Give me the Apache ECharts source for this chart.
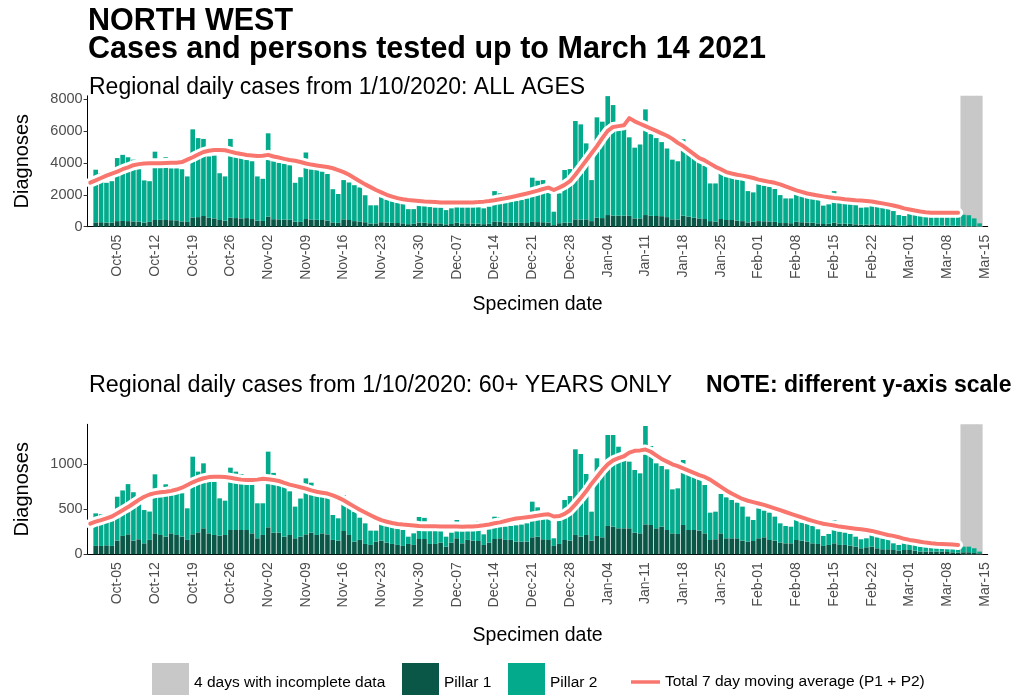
<!DOCTYPE html>
<html>
<head>
<meta charset="utf-8">
<script src="https://cdn.jsdelivr.net/npm/echarts@6/dist/echarts.min.js"></script>
<style>
  html, body { margin: 0; padding: 0; background: #fff; }
  #main { width: 1018px; height: 695px; }
</style>
</head>
<body>
<div id="main"></div>
<script>
// daily counts from 1 Oct 2020 to 14 Mar 2021 (one value per day)
var allP1 = [270,280,250,260,350,360,350,330,320,260, 300,420,430,420,410,400,330,300,580,600,
  670,560,520,420,380,560,540,520,540,480, 380,360,630,470,460,440,430,320,300,480,
  450,430,420,380,270,240,460,420,350,330, 280,200,210,280,260,240,230,210,160,180,
  260,250,220,210,210,150,170,250,210,210, 200,200,160,180,330,310,260,260,250,240,
  230,300,290,280,260,100,220,260,250,460, 440,460,350,560,540,730,690,690,690,680,
  520,520,730,680,670,660,600,460,450,690, 630,560,520,480,350,310,480,420,420,380,
  350,270,310,350,340,330,300,230,230,220, 310,280,260,250,210,170,180,250,190,190,
  180,150,130,130,150,130,100,100,100,80, 80,100,90,80,70,65,60,60,60,60, 55,60,50,45,20];
var allP2 = [3300,3080,2500,2590,3950,4140,4000,3870,3280,2640, 2550,4280,3770,3930,3240,3250,3270,2850,5520,4950,
  4830,3840,3930,2930,2770,4940,4310,3830,3660,3620, 2770,2640,5220,3630,3540,3510,3420,2430,2800,4170,
  3150,3120,3030,2920,2080,1810,2460,2350,2250,2130, 1690,1140,1130,1570,1440,1360,1270,1210,940,920,
  1100,1070,1010,980,980,890,980,1500,1000,1000, 1010,1010,990,1070,1900,1780,1260,1310,1370,1430,
  1540,2770,2590,2640,1990,840,1870,3290,3360,6160, 5970,4760,2570,6290,6040,7450,6930,5410,5460,4920,
  4430,4630,6620,5120,4880,4640,4300,3740,3650,4790, 4070,3990,3830,3340,2360,2400,3030,2860,2710,2650,
  2570,1960,1840,2320,2230,2180,2060,1750,1540,1550, 1740,1640,1580,1520,1460,1150,1220,1980,1330,1270,
  1240,1210,1060,1080,1170,1120,1110,1050,880,650, 590,780,700,650,530,535,540,540,540,540, 545,690,670,475,190];
var oldP1 = [93,93,100,93,152,204,222,152,167,122, 160,233,215,196,233,215,196,160,222,244,
  289,233,215,207,215,270,270,270,270,233, 178,215,300,240,240,196,215,178,196,222,
  240,215,233,222,160,152,259,215,141,160, 115,104,141,152,130,115,104,93,115,104,
  170,170,115,115,130,85,130,178,122,160, 152,148,104,130,170,178,160,160,141,141,
  141,189,196,167,159,93,115,159,152,215, 196,215,152,204,189,315,307,289,289,289,
  241,233,333,326,289,307,270,233,226,326, 270,270,263,233,159,167,233,178,178,178,
  152,141,148,178,189,159,152,130,122,122, 159,152,141,122,115,93,104,122,104,104,
  96,85,67,78,85,67,56,56,48,41, 48,48,41,30,30,30,30,30,26,22, 19,22,22,15,11];
var oldP2 = [362,352,265,277,488,506,558,538,393,370, 315,656,418,582,526,548,482,351,863,675,
  722,667,592,415,381,693,649,620,610,574, 389,352,841,665,549,584,485,352,424,622,
  556,455,437,408,277,248,400,322,333,247, 229,159,122,211,196,185,185,177,81,129,
  245,235,155,155,140,111,110,203,148,110, 118,222,118,148,248,233,147,155,181,189,
  203,396,326,326,241,85,266,445,496,952, 919,678,322,863,761,1011,1019,907,796,741,
  696,667,1093,878,722,674,674,489,507,722, 630,600,581,537,304,307,437,455,426,396,
  378,278,233,333,296,304,267,214,193,185, 222,200,196,193,163,111,122,259,148,137,
  130,111,100,100,222,122,122,111,74,63, 74,67,63,55,48,48,48,37,41,45, 37,63,63,52,19];

// 7 day moving average, 30 Sep 2020 to 10 Mar 2021
var allAvg = [2760, 2900,3050,3200,3330,3450,3600,3720,3850,3920,3960,
  3970,3980,3980,3990,4000,4010,4050,4200,4350,4520, 4680,4760,4800,4800,4790,4700,4620,4560,4490,4460,
  4430,4450,4500,4400,4330,4250,4180,4130,4050,3960, 3890,3840,3790,3740,3660,3550,3420,3250,3050,2850,
  2650,2480,2300,2150,2000,1880,1790,1720,1670,1640, 1610,1580,1560,1540,1520,1510,1510,1510,1510,1510,
  1520,1540,1570,1610,1660,1720,1780,1850,1920,2000, 2080,2170,2260,2360,2450,2300,2450,2620,2850,3250,
  3700,4150,4600,5050,5550,6000,6250,6300,6350,6800, 6600,6450,6300,6150,6000,5850,5700,5500,5250,5050,
  4800,4550,4300,4150,3950,3750,3600,3420,3330,3250, 3200,3130,3050,2950,2880,2810,2750,2650,2520,2400,
  2280,2180,2080,2020,1960,1900,1850,1800,1760,1720, 1690,1660,1640,1610,1580,1520,1460,1400,1330,1250,
  1150,1080,1010,950,910,880,870,870,870,870,870];
var oldAvg = [340, 363,380,400,420,455,490,525,565,605,640,
  665,680,690,696,705,720,740,770,800,826, 845,858,863,863,860,850,840,830,826,825,
  830,840,835,826,815,795,775,760,745,730, 710,695,685,675,655,630,600,565,530,495,
  465,435,405,380,362,348,337,330,325,320, 315,313,312,311,310,310,309,308,307,308,
  310,315,322,332,345,355,370,385,398,405, 412,420,430,440,445,420,425,450,490,555,
  625,700,785,860,935,1000,1045,1070,1090,1130, 1150,1155,1165,1140,1100,1060,1030,1000,980,955,
  930,905,880,860,830,790,750,710,675,645, 615,595,580,565,550,530,510,490,470,450,
  430,410,390,372,355,340,330,320,308,300, 292,285,278,270,260,245,230,215,205,190,
  172,160,150,140,130,123,118,115,112,108,104];

var incompleteDays = ['2021-03-11', '2021-03-12', '2021-03-13', '2021-03-14'];
var allTicks = [0, 2000, 4000, 6000, 8000];
var oldTicks = [0, 500, 1000];
var allMax = 8200;
var oldMax = 1445;

var months = ['Jan','Feb','Mar','Apr','May','Jun','Jul','Aug','Sep','Oct','Nov','Dec'];
var days = [];
for (var t = Date.UTC(2020, 8, 30); t <= Date.UTC(2021, 2, 15); t += 86400000) {
    days.push(new Date(t).toISOString().slice(0, 10));
}

var FONT = "'Liberation Sans', Arial, sans-serif";
var C_P1 = '#0b5747', C_P2 = '#03ab8c', C_GREY = '#c8c8c8', C_LINE = '#f8766d';

function isMonday(idx, val) {
    return new Date(val + 'T00:00:00Z').getUTCDay() === 1;
}
function dayLabel(val) {
    var d = new Date(val + 'T00:00:00Z');
    var dd = d.getUTCDate();
    return months[d.getUTCMonth()] + '-' + (dd < 10 ? '0' + dd : dd);
}
function pad(arr) {
    return [null].concat(arr).concat([null]);
}

function renderGrey(params, api) {
    var top = api.coord([api.value(0), api.value(1)]);
    var base = api.coord([api.value(0), 0]);
    var w = api.size([1, 0])[0];
    return {
        type: 'rect',
        shape: { x: top[0] - w / 2 - 0.3, y: top[1], width: w + 0.6, height: base[1] - top[1] },
        style: { fill: C_GREY }
    };
}

function xAxisFor(gridIndex, gap) {
    return {
        type: 'category', gridIndex: gridIndex, data: days, boundaryGap: true,
        axisLine: { lineStyle: { color: '#000', width: 1 } },
        axisTick: { alignWithLabel: true, interval: isMonday, length: 4, lineStyle: { color: '#333' } },
        axisLabel: { interval: isMonday, rotate: 90, formatter: dayLabel, fontSize: 14, color: '#4d4d4d',
            fontFamily: FONT, margin: 8, hideOverlap: false },
        name: 'Specimen date', nameLocation: 'middle', nameGap: gap, nameMoveOverlap: false,
        nameTextStyle: { fontSize: 19.5, color: '#000', fontFamily: FONT }
    };
}
function yAxisFor(gridIndex, max, ticks) {
    return {
        type: 'value', gridIndex: gridIndex, min: 0, max: max,
        axisLine: { show: true, lineStyle: { color: '#000', width: 1 } },
        axisTick: { show: true, length: 4, customValues: ticks, lineStyle: { color: '#333' } },
        axisLabel: { customValues: ticks, fontSize: 14.5, color: '#4d4d4d', fontFamily: FONT, margin: 5,
            formatter: function (v) { return String(v); } },
        splitLine: { show: false },
        name: 'Diagnoses', nameLocation: 'middle', nameGap: 55, nameMoveOverlap: false,
        nameTextStyle: { fontSize: 20, color: '#000', fontFamily: FONT }
    };
}
function seriesFor(idx, p1, p2, avg, max) {
    return [
        { name: '4 days with incomplete data', type: 'custom', xAxisIndex: idx, yAxisIndex: idx, z: 1,
          renderItem: renderGrey, itemStyle: { color: C_GREY }, silent: true,
          data: incompleteDays.map(function (d) { return [d, max]; }) },
        { name: 'Pillar 1', type: 'bar', stack: 'p' + idx, xAxisIndex: idx, yAxisIndex: idx, z: 2,
          barCategoryGap: '14%', itemStyle: { color: C_P1 }, data: pad(p1) },
        { name: 'Pillar 2', type: 'bar', stack: 'p' + idx, xAxisIndex: idx, yAxisIndex: idx, z: 2,
          barCategoryGap: '14%', itemStyle: { color: C_P2 }, data: pad(p2) },
        { name: 'halo', type: 'line', xAxisIndex: idx, yAxisIndex: idx, z: 3, silent: true,
          symbol: 'none', lineStyle: { color: '#fff', width: 10, cap: 'round', join: 'round' }, data: avg },
        { name: 'Total 7 day moving average (P1 + P2)', type: 'line', xAxisIndex: idx, yAxisIndex: idx, z: 4,
          symbol: 'none', lineStyle: { color: C_LINE, width: 4, cap: 'round', join: 'round' },
          itemStyle: { color: C_LINE }, data: avg }
    ];
}
function legendAt(left, top, name, w, h) {
    return {
        left: left, top: top, orient: 'horizontal', selectedMode: false,
        itemWidth: w, itemHeight: h, padding: 0,
        data: [{ name: name, icon: 'rect' }],
        textStyle: { fontSize: 15.5, color: '#000', fontFamily: FONT }
    };
}

var chart = echarts.init(document.getElementById('main'), null, { renderer: 'canvas' });

var option = {
    backgroundColor: '#fff',
    animation: false,
    title: [
        { text: 'NORTH WEST', left: 88, top: 6, padding: 0,
          textStyle: { fontSize: 30.5, fontWeight: 'bold', color: '#000', fontFamily: FONT } },
        { text: 'Cases and persons tested up to March 14 2021', left: 88, top: 34, padding: 0,
          textStyle: { fontSize: 30.5, fontWeight: 'bold', color: '#000', fontFamily: FONT } },
        { text: 'Regional daily cases from 1/10/2020: ALL AGES', left: 89, top: 76, padding: 0,
          textStyle: { fontSize: 23, fontWeight: 'normal', color: '#000', fontFamily: FONT } },
        { text: 'Regional daily cases from 1/10/2020: 60+ YEARS ONLY', left: 89, top: 374, padding: 0,
          textStyle: { fontSize: 23.3, fontWeight: 'normal', color: '#000', fontFamily: FONT } },
        { text: 'NOTE: different y-axis scale', left: 706, top: 374, padding: 0,
          textStyle: { fontSize: 23, fontWeight: 'bold', color: '#000', fontFamily: FONT } }
    ],
    legend: [
        legendAt(152, 663, '4 days with incomplete data', 37, 40),
        legendAt(402, 663, 'Pillar 1', 37, 40),
        legendAt(508, 663, 'Pillar 2', 37, 40),
        legendAt(631, 674, 'Total 7 day moving average (P1 + P2)', 29, 3.5)
    ],
    grid: [
        { left: 87.6, top: 95.8, width: 900.1, height: 130.9, outerBoundsMode: 'none' },
        { left: 87.6, top: 424.3, width: 900.1, height: 130, outerBoundsMode: 'none' }
    ],
    xAxis: [xAxisFor(0, 68), xAxisFor(1, 71)],
    yAxis: [yAxisFor(0, allMax, allTicks), yAxisFor(1, oldMax, oldTicks)],
    series: seriesFor(0, allP1, allP2, allAvg, allMax).concat(seriesFor(1, oldP1, oldP2, oldAvg, oldMax))
};
chart.setOption(option);
</script>
</body>
</html>
